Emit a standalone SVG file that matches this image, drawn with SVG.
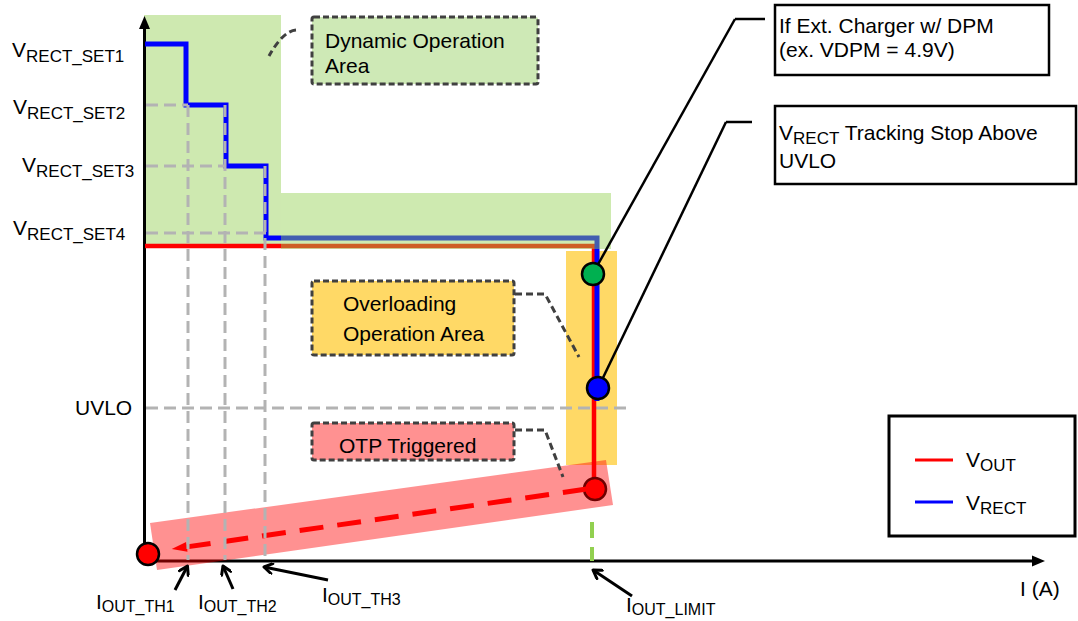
<svg xmlns="http://www.w3.org/2000/svg" width="1078" height="621" viewBox="0 0 1078 621">
<style>
text{font-family:"Liberation Sans",Arial,sans-serif;font-size:21px;fill:#000}
.sub{font-size:17px}
.sub16{font-size:16px}
.ax{stroke:#000;stroke-width:3;fill:none}
.grid{stroke:#b3b3b3;stroke-width:3;stroke-dasharray:12 6;fill:none}
.lead{stroke:#404040;stroke-width:3;stroke-dasharray:7 4;fill:none}
.dbox{stroke:#404040;stroke-width:3;stroke-dasharray:6 3;stroke-linejoin:round}
.cbox{fill:#fff;stroke:#000;stroke-width:2.5}
.cl{stroke:#000;stroke-width:2.5;fill:none}
.pt{stroke:#000;stroke-width:2.5}
.arr{stroke:#000;stroke-width:3;fill:none;marker-end:url(#chev)}
</style>
<defs>
<marker id="chev" viewBox="0 0 12 12" markerWidth="12" markerHeight="12" refX="10" refY="6" orient="auto" markerUnits="userSpaceOnUse">
<path d="M2,1 L10,6 L2,11" fill="none" stroke="#000" stroke-width="3" stroke-linecap="round" stroke-linejoin="round"/>
</marker>
</defs>

<g id="areas">
<rect x="144" y="15" width="137" height="232" fill="#cee9b0"/>
<rect x="566" y="251" width="51" height="214" fill="#ffd966"/>
</g>

<g id="uvlo-grid">
<line class="grid" x1="146" y1="408" x2="632" y2="408"/>
</g>

<g id="axes">
<line class="ax" x1="144.5" y1="562" x2="144.5" y2="26"/>
<polygon points="144.5,16 139,29 150,29" fill="#000"/>
<line class="ax" x1="143" y1="561" x2="1034" y2="561"/>
<polygon points="1045,561 1032,555.5 1032,566.5" fill="#000"/>
</g>

<g id="curves">
<path d="M145,246 H594 V489" fill="none" stroke="#ff0000" stroke-width="4.5"/>
<path d="M145,44 H186 V105 H226 V166 H266 V238 H597 V401" fill="none" stroke="#0000ff" stroke-width="5"/>
</g>

<g id="dynamic-overlay">
<rect x="281" y="193" width="330" height="56" fill="#92d050" fill-opacity="0.45"/>
</g>

<g id="otp-point">
<circle class="pt" cx="595" cy="489" r="11" fill="#ff0000"/>
</g>

<g id="otp-band">
<polygon points="150,523 606,460 613,505 157,570" fill="#ff0000" fill-opacity="0.43"/>
</g>

<g id="connectors">
<path d="M186.8,546.9 L594,488" fill="none" stroke="#ff0000" stroke-width="5" stroke-dasharray="24 14"/>
<polygon points="171.7,549 187.5,551.8 186.1,541.9" fill="#ff0000"/>
<line class="cl" x1="765" y1="19" x2="735" y2="19"/>
<line class="cl" x1="735" y1="19" x2="596" y2="268"/>
<line class="cl" x1="752" y1="122" x2="726" y2="122"/>
<line class="cl" x1="726" y1="122" x2="600" y2="384"/>
<path class="lead" d="M296,30 Q283,31 269,56"/>
<path class="lead" d="M515,294 H545 L579,357"/>
<path class="lead" d="M515,430 H545 L563,477"/>
<line class="arr" x1="175" y1="590" x2="187.5" y2="566"/>
<line class="arr" x1="233" y1="589" x2="223" y2="566"/>
<line class="arr" x1="328" y1="580" x2="264" y2="567"/>
<line class="arr" x1="632" y1="596" x2="593" y2="570"/>
<line x1="592" y1="522" x2="592" y2="561" stroke="#92d050" stroke-width="4" stroke-dasharray="16 9"/>
</g>

<g id="grid-lines">
<line class="grid" x1="146" y1="105" x2="188" y2="105"/>
<line class="grid" x1="146" y1="166" x2="226" y2="166"/>
<line class="grid" x1="146" y1="233" x2="266" y2="233"/>
<line class="grid" x1="188" y1="105" x2="188" y2="560"/>
<line class="grid" x1="225" y1="105" x2="225" y2="560"/>
<line class="grid" x1="265" y1="166" x2="265" y2="560"/>
</g>

<g id="points">
<circle class="pt" cx="148" cy="554" r="11" fill="#ff0000"/>
<circle class="pt" cx="593" cy="274" r="11" fill="#00b050"/>
<circle class="pt" cx="598" cy="388" r="11" fill="#0000ff"/>
</g>

<g id="y-labels">
<text x="12" y="57">V<tspan class="sub" dy="4.5">RECT_SET1</tspan></text>
<text x="13" y="114">V<tspan class="sub" dy="4.5">RECT_SET2</tspan></text>
<text x="22" y="172">V<tspan class="sub" dy="4.5">RECT_SET3</tspan></text>
<text x="13" y="235">V<tspan class="sub" dy="4.5">RECT_SET4</tspan></text>
<text x="75" y="415">UVLO</text>
</g>

<g id="x-labels">
<text x="96" y="609" font-size="20">I<tspan class="sub16" dy="3">OUT_TH1</tspan></text>
<text x="198" y="609" font-size="20">I<tspan class="sub16" dy="3">OUT_TH2</tspan></text>
<text x="322" y="602" font-size="20">I<tspan class="sub16" dy="3">OUT_TH3</tspan></text>
<text x="626" y="612" font-size="20">I<tspan class="sub16" dy="3">OUT_LIMIT</tspan></text>
<text x="1020" y="596" font-size="20">I (A)</text>
</g>

<g id="dynamic-box">
<rect class="dbox" x="312" y="17" width="226" height="67" rx="2" fill="#cee9b6"/>
<text x="325" y="48">Dynamic Operation</text>
<text x="325" y="73">Area</text>
</g>

<g id="overloading-box">
<rect class="dbox" x="312" y="281" width="202" height="74" rx="2" fill="#ffd966"/>
<text x="343" y="311">Overloading</text>
<text x="343" y="341">Operation Area</text>
</g>

<g id="otp-box">
<rect class="dbox" x="312" y="423" width="202" height="37" rx="2" fill="#ff9191"/>
<text x="339" y="453">OTP Triggered</text>
</g>

<g id="dpm-callout">
<rect class="cbox" x="775" y="5" width="274" height="70"/>
<text x="779" y="33">If Ext. Charger w/ DPM</text>
<text x="779" y="57">(ex. VDPM = 4.9V)</text>
</g>

<g id="uvlo-callout">
<rect class="cbox" x="775" y="106" width="301" height="78"/>
<text x="779" y="140">V<tspan class="sub" dy="4">RECT</tspan><tspan dy="-4"> Tracking Stop Above</tspan></text>
<text x="779" y="168">UVLO</text>
</g>

<g id="legend">
<rect x="889" y="416" width="186" height="120" fill="#fff" stroke="#000" stroke-width="3"/>
<line x1="915" y1="460" x2="953" y2="460" stroke="#ff0000" stroke-width="3"/>
<line x1="915" y1="502" x2="953" y2="502" stroke="#0000ff" stroke-width="3"/>
<text x="966" y="467">V<tspan class="sub" dy="3.5">OUT</tspan></text>
<text x="966" y="510">V<tspan class="sub" dy="4">RECT</tspan></text>
</g>
</svg>
